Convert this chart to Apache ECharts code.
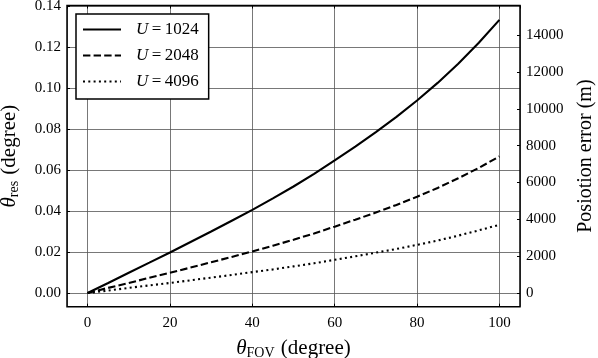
<!DOCTYPE html>
<html>
<head>
<meta charset="utf-8">
<script src="https://cdn.jsdelivr.net/npm/echarts@6/dist/echarts.min.js"></script>
<style>
  html, body { margin: 0; padding: 0; background: #fff; }
  #chart { width: 598px; height: 358px; }
</style>
</head>
<body>
<div id="chart"></div>
<script>
// field of view (degree)
const fov = [0, 5, 10, 15, 20, 25, 30, 35, 40, 45, 50, 55, 60, 65, 70, 75, 80, 85, 90, 95, 100];
// angular resolution (degree)
const res1024 = [0, 0.0049, 0.0099, 0.0148, 0.0198, 0.0249, 0.0300, 0.0353, 0.0406, 0.0462, 0.0520,
                 0.0582, 0.0648, 0.0715, 0.0786, 0.0860, 0.0940, 0.1026, 0.1120, 0.1222, 0.1334];
const res2048 = [0, 0.0025, 0.0049, 0.0074, 0.0099, 0.0124, 0.0150, 0.0176, 0.0203, 0.0231, 0.0260,
                 0.0291, 0.0324, 0.0358, 0.0393, 0.0430, 0.0470, 0.0513, 0.0560, 0.0611, 0.0667];
const res4096 = [0, 0.0012, 0.0025, 0.0037, 0.0049, 0.0062, 0.0075, 0.0088, 0.0102, 0.0115, 0.0130,
                 0.0145, 0.0162, 0.0179, 0.0197, 0.0215, 0.0235, 0.0256, 0.0280, 0.0306, 0.0333];
const seriesNames = ['U=1024', 'U=2048', 'U=4096'];

// axis ranges
const xRange = [-5, 105];
const leftRange = [-0.0067, 0.1404];
const rightRange = [-745, 15612];

const FONT = 'Liberation Serif';

function pairs(xs, ys) {
    return xs.map((x, i) => [x, ys[i]]);
}

function gen_line_series(name, values, dash) {
    return {
        name: name,
        type: 'line',
        data: pairs(fov, values),
        symbol: 'none',
        smooth: false,
        lineStyle: {color: '#000', width: 2.1, type: dash},
        itemStyle: {color: '#000'},
        xAxisIndex: 0,
        yAxisIndex: 0,
        z: 3
    };
}

let chart = echarts.init(document.getElementById('chart'), null, {renderer: 'canvas'});

let labelStyle = {color: '#000', fontFamily: FONT, fontSize: 15};
let nameRich = {
    t: {fontFamily: FONT, fontSize: 21, color: '#000'},
    th: {fontFamily: FONT, fontSize: 21, fontStyle: 'italic', color: '#000'},
    s: {fontFamily: FONT, fontSize: 14, color: '#000', verticalAlign: 'bottom', padding: [10, 1, 0, 0]}
};
let tickStyle = {inside: true, length: 3, lineStyle: {color: '#000'}};

let option = {
    animation: false,
    grid: {
        left: 67, right: 78, top: 5.5, bottom: 51.3,
        outerBoundsMode: 'none', containLabel: false,
        show: true, borderColor: '#000', borderWidth: 1.5, z: 4
    },
    legend: {
        left: 76, top: 14,
        orient: 'vertical',
        data: seriesNames,
        itemWidth: 38, itemHeight: 14, itemGap: 9,
        padding: [7, 10, 9, 6],
        borderColor: '#000', borderWidth: 1.5, borderRadius: 0,
        backgroundColor: '#fff',
        itemStyle: {color: 'transparent', borderWidth: 0, opacity: 0},
        formatter: name => '{u|U}{v|\u2009=\u2009' + name.split('=')[1] + '}',
        textStyle: {
            rich: {
                u: {fontFamily: FONT, fontSize: 17, fontStyle: 'italic', color: '#000', padding: [0, 0, 0, 10]},
                v: {fontFamily: FONT, fontSize: 17, color: '#000'}
            }
        }
    },
    xAxis: [{
        type: 'value',
        min: xRange[0], max: xRange[1], splitNumber: 5,
        name: '{th|θ}{s|FOV}{t| (degree)}',
        nameLocation: 'middle', nameGap: 30,
        nameTextStyle: {rich: nameRich},
        axisLine: {show: false, onZero: false},
        axisTick: tickStyle,
        axisLabel: Object.assign({margin: 9, showMinLabel: false, showMaxLabel: false}, labelStyle),
        splitLine: {show: true, lineStyle: {color: '#555', width: 0.8}}
    }, {
        type: 'value', position: 'top',
        min: xRange[0], max: xRange[1], splitNumber: 5,
        axisLine: {show: false, onZero: false},
        axisTick: tickStyle,
        axisLabel: {show: false},
        splitLine: {show: false}
    }],
    yAxis: [{
        type: 'value', position: 'left',
        min: leftRange[0], max: leftRange[1], splitNumber: 7,
        name: '{th|θ}{s|res}{t| (degree)}',
        nameLocation: 'middle', nameGap: 46, nameRotate: 90,
        nameTextStyle: {rich: nameRich},
        axisLine: {show: false, onZero: false},
        axisTick: tickStyle,
        axisLabel: Object.assign({margin: 6, showMinLabel: false, showMaxLabel: false,
            formatter: v => v.toFixed(2)}, labelStyle),
        splitLine: {show: true, lineStyle: {color: '#555', width: 0.8}}
    }, {
        type: 'value', position: 'right',
        min: rightRange[0], max: rightRange[1], splitNumber: 7,
        name: 'Posiotion error (m)',
        nameLocation: 'middle', nameGap: 56, nameRotate: 90,
        nameTextStyle: {fontFamily: FONT, fontSize: 20, color: '#000'},
        axisLine: {show: false, onZero: false},
        axisTick: tickStyle,
        axisLabel: Object.assign({margin: 6, showMinLabel: false, showMaxLabel: false,
            formatter: v => String(v)}, labelStyle),
        splitLine: {show: false}
    }],
    series: [
        gen_line_series(seriesNames[0], res1024, 'solid'),
        gen_line_series(seriesNames[1], res2048, [7.4, 3.2]),
        gen_line_series(seriesNames[2], res4096, [2, 3.3])
    ]
};

chart.setOption(option);
</script>
</body>
</html>
